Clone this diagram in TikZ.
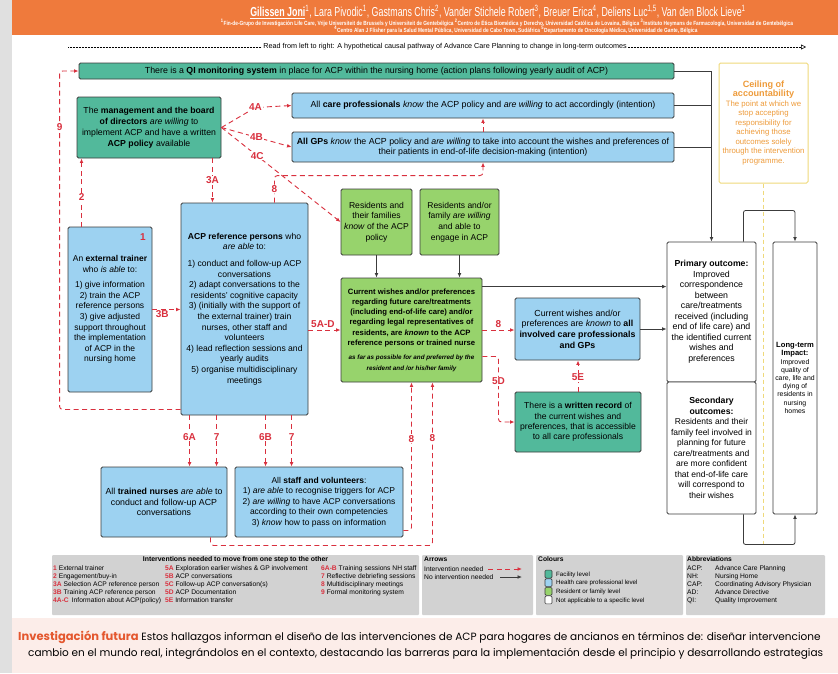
\documentclass[tikz,border=0pt]{standalone}
\usepackage{fontspec}
\setmainfont{Liberation Sans}
\newfontfamily\headfont[FakeStretch=0.8]{Liberation Sans}
\newfontfamily\narrowfont[FakeStretch=0.68]{Liberation Sans}
\newfontfamily\futfont{Poppins}
\usetikzlibrary{arrows.meta}

\definecolor{facility}{HTML}{52B99B}
\definecolor{hcp}{HTML}{9DD2F1}
\definecolor{resid}{HTML}{97D36C}
\definecolor{ivred}{HTML}{D9303E}
\definecolor{heador}{HTML}{EF7A3C}
\definecolor{ceilor}{HTML}{EE9B3A}
\definecolor{ceilyel}{HTML}{EFD97A}
\definecolor{legrey}{HTML}{D2D2D2}
\definecolor{edgegrey}{HTML}{3C3C3C}
\definecolor{pinkbg}{HTML}{FCEDE9}
\definecolor{futor}{HTML}{E4572E}

\newcommand{\bodyfont}{\fontsize{8.5}{10.4}\selectfont}
\newcommand{\legfont}{\fontsize{6.7}{8}\selectfont}
\newcommand{\noteit}{\fontsize{6.3}{7.8}\selectfont\itshape}

\tikzset{
  blk/.style={draw=edgegrey, line width=0.9pt, rounded corners=1.5pt, align=center, inner sep=1pt, font=\bodyfont},
  facbox/.style={blk, fill=facility},
  hcpbox/.style={blk, fill=hcp},
  resbox/.style={blk, fill=resid},
  nabox/.style={blk, fill=white},
  iv/.style={draw=ivred, line width=0.9pt, dash pattern=on 5pt off 3.5pt, -{Latex[length=4.5pt,width=3.8pt]}},
  noiv/.style={draw=edgegrey, line width=0.8pt, -{Latex[length=4.5pt,width=3.8pt]}},
  ivlab/.style={text=ivred, font=\fontsize{10}{10}\selectfont\bfseries, fill=white, inner sep=1pt},
  legtxt/.style={anchor=base west, font=\legfont, inner sep=0pt},
}

\begin{document}
\begin{tikzpicture}[x=1pt,y=-1pt]
\clip (0,0) rectangle (838,673);
\fill[white] (0,0) rectangle (838,673);
\fill[black!12] (0,0) rectangle (12,673);

% header
\fill[heador] (12,0) rectangle (838,35);
\node[text=white, font=\narrowfont\fontsize{13}{14}\selectfont] (authors) at (498,12)
  {\underline{\bfseries Gilissen Joni}\textsuperscript{1}, Lara Pivodic\textsuperscript{1}, Gastmans Chris\textsuperscript{2}, Vander Stichele Robert\textsuperscript{3}, Breuer Erica\textsuperscript{4}, Deliens Luc\textsuperscript{1,5}, Van den Block Lieve\textsuperscript{1}};
\node[text=white, font=\headfont\fontsize{6}{6}\selectfont\bfseries] (affil1) at (507,23)
  {\textsuperscript{1}Fin-de-Grupo de Investigación Life Care, Vrije Universiteit de Brussels y Universiteit de Gentebélgica \textsuperscript{2}Centro de Ética Biomédica y Derecho, Universidad Católica de Lovaina, Bélgica \textsuperscript{3}Instituto Heymans de Farmacología, Universidad de Gentebélgica};
\node[text=white, font=\headfont\fontsize{6}{6}\selectfont\bfseries] (affil2) at (516,30)
  {\textsuperscript{4}Centro Alan J Flisher para la Salud Mental Pública, Universidad de Cabo Town, Sudáfrica \textsuperscript{5}Departamento de Oncología Médica, Universidad de Gante, Bélgica};

% reading direction
\coordinate (rs) at (68,47);
\coordinate (re) at (806,47);
\draw[densely dotted, line width=0.5pt, -{Triangle[open, length=5pt, width=5pt]}] (rs) -- (re)
  node[pos=0.511, fill=white, font=\fontsize{7.2}{8}\selectfont, inner sep=1pt] (readme) {Read from left to right: A hypothetical causal pathway of Advance Care Planning to change in long-term outcomes};

% boxes
\node[facbox, minimum width=595pt, minimum height=16pt, font=\fontsize{8.8}{10}\selectfont] (qi) at (376.5,71)
  {There is a \textbf{QI monitoring system} in place for ACP within the nursing home (action plans following yearly audit of ACP)};
\node[facbox, minimum width=144pt, minimum height=61pt, font=\fontsize{8.7}{11}\selectfont] (mgmt) at (149,127.5)
  {The \textbf{management and the board}\\ \textbf{of directors} \textit{are willing} to\\ implement ACP and have a written\\ \textbf{ACP policy} available};
\node[hcpbox, minimum width=382pt, minimum height=25pt, font=\fontsize{8.8}{10.5}\selectfont] (carep) at (483,105.5)
  {All \textbf{care professionals} \textit{know} the ACP policy and \textit{are willing} to act accordingly (intention)};
\node[hcpbox, minimum width=382pt, minimum height=30pt, font=\fontsize{8.8}{10.5}\selectfont] (gps) at (483,147)
  {\textbf{All GPs} \textit{know} the ACP policy and \textit{are willing} to take into account the wishes and preferences of\\ their patients in end-of-life decision-making (intention)};
\node[hcpbox, minimum width=84pt, minimum height=165pt, font=\fontsize{8.5}{10.6}\selectfont] (trainer) at (110,309.5)
  {An \textbf{external trainer}\\ who \textit{is able} to:\\[5pt] 1) give information\\ 2) train the ACP\\ reference persons\\ 3) give adjusted\\ support throughout\\ the implementation\\ of ACP in the\\ nursing home};
\node[text=ivred, font=\fontsize{10}{10}\selectfont\bfseries] (one) at (143,237) {1};
\node[hcpbox, minimum width=127pt, minimum height=212pt, font=\fontsize{8.6}{10.6}\selectfont] (refp) at (244.5,309)
  {\textbf{ACP reference persons} who\\ \textit{are able} to:\\[6pt] 1) conduct and follow-up ACP\\ conversations\\ 2) adapt conversations to the\\ residents' cognitive capacity\\ 3) (initially with the support of\\ the external trainer) train\\ nurses, other staff and\\ volunteers\\ 4) lead reflection sessions and\\ yearly audits\\ 5) organise multidisciplinary\\ meetings};
\node[resbox, minimum width=71pt, minimum height=66pt, font=\fontsize{8.6}{10.6}\selectfont] (resknow) at (376.5,222)
  {Residents and\\ their families\\ \textit{know} of the ACP\\ policy};
\node[resbox, minimum width=79pt, minimum height=66pt, font=\fontsize{8.5}{10.6}\selectfont] (reswill) at (459.5,222)
  {Residents and/or\\ family \textit{are willing}\\ and able to\\ engage in ACP};
\node[resbox, minimum width=141pt, minimum height=104pt, font=\fontsize{7.7}{10.3}\selectfont\bfseries] (wishes) at (411.5,330)
  {Current wishes and/or preferences\\ regarding future care/treatments\\ (including end-of-life care) and/or\\ regarding legal representatives of\\ residents, are \textit{known} to the ACP\\ reference persons or trained nurse\\[4pt] \noteit as far as possible for and preferred by the\\ \noteit resident and /or his/her family};
\node[hcpbox, minimum width=125pt, minimum height=62pt, font=\fontsize{8.8}{10.7}\selectfont] (known) at (577.5,329)
  {Current wishes and/or\\ preferences are \textit{known} to \textbf{all}\\ \textbf{involved care professionals}\\ \textbf{and GPs}};
\node[facbox, minimum width=126pt, minimum height=60pt, font=\fontsize{8.6}{10.4}\selectfont] (record) at (578,422)
  {There is a \textbf{written record} of\\ the current wishes and\\ preferences, that is accessible\\ to all care professionals};
\node[hcpbox, minimum width=126pt, minimum height=70pt, font=\fontsize{8.8}{10.4}\selectfont] (nurses) at (164,502)
  {All \textbf{trained nurses} \textit{are able} to\\ conduct and follow-up ACP\\ conversations};
\node[hcpbox, minimum width=168pt, minimum height=70pt] (staff) at (319,502)
  {All \textbf{staff and volunteers}:\\ 1) \textit{are able} to recognise triggers for ACP\\ 2) \textit{are willing} to have ACP conversations\\ according to their own competencies\\ 3) \textit{know} how to pass on information};

% outcomes
\node[draw=ceilyel, line width=1pt, rounded corners=1.5pt, minimum width=89pt, minimum height=120pt, align=center, inner sep=1pt, text=ceilor, font=\fontsize{7.8}{9.5}\selectfont] (ceiling) at (763.5,123)
  {\fontsize{9.1}{11}\selectfont\bfseries Ceiling of\\ \fontsize{9.1}{11}\selectfont\bfseries accountability\\ The point at which we\\ stop accepting\\ responsibility for\\ achieving those\\ outcomes solely\\ through the intervention\\ programme.};
\draw[ceilyel, line width=0.9pt, dash pattern=on 4pt off 3pt] (ceiling.south) -- ++(0,362);
\node[nabox, minimum width=89pt, minimum height=140pt, font=\fontsize{8.8}{10.5}\selectfont] (primary) at (711.5,312)
  {\fontsize{8.7}{10.5}\selectfont\bfseries Primary outcome:\\ Improved\\ correspondence\\ between\\ care/treatments\\ received (including\\ end of life care) and\\ the identified current\\ wishes and\\ preferences};
\node[nabox, minimum width=89pt, minimum height=132pt, font=\fontsize{8.5}{10.5}\selectfont] (secondary) at (711.5,448)
  {\fontsize{8.7}{10.5}\selectfont\bfseries Secondary\\ \fontsize{8.7}{10.5}\selectfont\bfseries outcomes:\\ Residents and their\\ family feel involved in\\ planning for future\\ care/treatments and\\ are more confident\\ that end-of-life care\\ will correspond to\\ their wishes};
\node[nabox, minimum width=44pt, minimum height=272pt, inner sep=0pt, font=\fontsize{6.9}{8.2}\selectfont] (impact) at (795,378)
  {\fontsize{7.6}{9}\selectfont\bfseries Long-term\\ \fontsize{7.6}{9}\selectfont\bfseries Impact:\\ Improved\\ quality of\\ care, life and\\ dying of\\ residents in\\ nursing\\ homes};

% no intervention needed
\draw[noiv] (qi.east) -| (primary.north);
\draw[edgegrey, line width=0.8pt] (carep.east) -- (carep.east -| primary.north);
\draw[edgegrey, line width=0.8pt] (gps.east) -- (gps.east -| primary.north);
\coordinate (wtop) at ([yshift=-9pt]wishes.north east);
\draw[noiv] (wtop) -- (wtop -| primary.west);
\draw[noiv] (known.east) -- (known.east -| primary.west);
\draw[noiv] (resknow.south) -- (resknow.south |- wishes.north);
\draw[noiv] (reswill.south) -- (reswill.south |- wishes.north);
\coordinate (ptop) at ([xshift=-13pt]primary.north east);
\draw[noiv, rounded corners=2pt] (ptop) -- ++(0,-31) -| (impact.north);
\coordinate (sbot) at ([xshift=-13pt]secondary.south east);
\draw[noiv, rounded corners=2pt] (sbot) -- ++(0,30) -| (impact.south);

% intervention needed
\coordinate (c9) at ([yshift=6pt]refp.south west);
\draw[iv, rounded corners=3pt] (c9) -- ++(-121,0) |- (qi.west) node[ivlab, pos=0.417] {9};
\coordinate (c2) at ([xshift=14pt]trainer.north west);
\draw[iv] (c2) -- (c2 |- mgmt.south) node[ivlab, pos=0.43] {2};
\coordinate (c3a) at ([xshift=-9pt]mgmt.south east);
\draw[iv] (c3a) -- (c3a |- refp.north) node[ivlab, pos=0.5] {3A};
\draw[iv] (trainer.east) -- (trainer.east -| refp.west) node[ivlab, below, fill=none, pos=0.35] {3B};
\draw[iv] (mgmt.east) -- ++(34,-20) node[ivlab, pos=1] {4A} -- (carep.west);
\draw[iv] (mgmt.east) -- (gps.west) node[ivlab, pos=0.5] {4B};
\draw[iv] (mgmt.east) -- (resknow.west) node[ivlab, pos=0.3] {4C};
\coordinate (c8t) at ([xshift=-34pt]refp.north east);
\draw[iv, rounded corners=3pt] (c8t) -- ++(0,-27) node[ivlab, pos=0.5] {8} -| (gps.south);
\draw[iv] (gps.north) -- (carep.south);
\coordinate (c5a) at (wishes.west -| refp.east);
\draw[iv] (c5a) -- (wishes.west) node[ivlab, above=1pt, fill=none, pos=0.45] {5A-D};
\draw[iv] (wishes.east) -- (wishes.east -| known.west) node[ivlab, above=1pt, fill=none, pos=0.5] {8};
\coordinate (c5d) at ([yshift=26pt]wishes.south east);
\draw[iv, rounded corners=3pt] (c5d) -- ++(16,0) |- (record.west) node[ivlab, pos=0.19] {5D};
\draw[iv] (record.north) -- (record.north |- known.south) node[ivlab, pos=0.45] {5E};
\foreach \dx/\lab/\tgt in {9/6A/nurses, 36/7/nurses, 85/6B/staff, 111/7/staff}{
  \coordinate (c\lab\dx) at ([xshift=\dx pt]refp.south west);
  \draw[iv] (c\lab\dx) -- (c\lab\dx |- \tgt.north) node[ivlab, pos=0.42] {\lab};
}
\coordinate (c8s) at ([yshift=7pt]staff.south east);
\draw[iv, rounded corners=3pt] (c8s) -| (wishes.south) node[ivlab, pos=0.81] {8};
\coordinate (c8n) at ([xshift=-17pt]nurses.south east);
\coordinate (c8w) at ([xshift=-50pt]wishes.south east);
\draw[iv, rounded corners=3pt] (c8n) -- ++(0,8) -| (c8w) node[ivlab, pos=0.83] {8};

% legend
\fill[legrey, rounded corners=1pt] (52,555) rectangle (419,615);
\fill[legrey, rounded corners=1pt] (422,555) rectangle (533,615);
\fill[legrey, rounded corners=1pt] (536,555) rectangle (683,615);
\fill[legrey, rounded corners=1pt] (686,555) rectangle (825,615);
\node[font=\fontsize{6.9}{8}\selectfont\bfseries, anchor=base, inner sep=0pt] (ivtitle) at (235.5,561.5) {Interventions needed to move from one step to the other};
\foreach \lab/\txt [count=\i] in {1/External trainer, 2/{Engagement/buy-in}, 3A/Selection ACP reference person, 3B/Training ACP reference person, 4A-C/{\,Information about ACP(policy)}}
  \node[legtxt] (ivA\i) at (53,562+8*\i) {\textcolor{ivred}{\bfseries\lab} \txt};
\foreach \lab/\txt [count=\i] in {5A/Exploration earlier wishes \& GP involvement, 5B/ACP conversations, 5C/Follow-up ACP conversation(s), 5D/ACP Documentation, 5E/Information transfer}
  \node[legtxt] (ivB\i) at (165,562+8*\i) {\textcolor{ivred}{\bfseries\lab} \txt};
\foreach \lab/\txt [count=\i] in {6A-B/Training sessions NH staff, 7/Reflective debriefing sessions, 8/Multidisciplinary meetings, 9/Formal monitoring system}
  \node[legtxt] (ivC\i) at (321,562+8*\i) {\textcolor{ivred}{\bfseries\lab} \txt};

\node[legtxt, font=\legfont\bfseries] (arrtitle) at (424,561.5) {Arrows};
\node[legtxt] (arr1) at (424,571) {Intervention needed};
\node[legtxt] (arr2) at (424,579) {No intervention needed};
\coordinate (la1) at (488,569);
\coordinate (la2) at (500,577);
\draw[iv] (la1) -- ++(34,0);
\draw[noiv] (la2) -- ++(22,0);

\node[legtxt, font=\legfont\bfseries] (coltitle) at (538,561.5) {Colours};
\foreach \col/\txt [count=\i] in {facility/Facility level, hcp/Health care professional level, resid/Resident or family level, white/Not applicable to a specific level}{
  \node[draw=edgegrey, fill=\col, line width=0.6pt, rounded corners=1.2pt, minimum width=7pt, minimum height=8pt, inner sep=0pt] (sw\i) at (548.5,565.5+8.6*\i) {};
  \node[legtxt, font=\fontsize{6.2}{7}\selectfont] (swl\i) at (556,567.6+8.6*\i) {\txt};
}

\node[legtxt, font=\legfont\bfseries] (abbtitle) at (687,561.5) {Abbreviations};
\foreach \ab/\txt [count=\i] in {ACP:/Advance Care Planning, NH:/Nursing Home, CAP:/Coordinating Advisory Physician, AD:/Advance Directive, QI:/Quality Improvement}{
  \node[legtxt] (ab\i) at (687,562+8*\i) {\ab};
  \node[legtxt] (abt\i) at (715,562+8*\i) {\txt};
}

% future research
\fill[pinkbg] (12,618) rectangle (838,673);
\node[anchor=base west, inner sep=0pt, font=\futfont\fontsize{10.5}{12}\selectfont] (future1) at (18,640)
  {{\color{futor}\fontsize{11.5}{12}\selectfont\bfseries Investigación futura} Estos hallazgos informan el diseño de las intervenciones de ACP para hogares de ancianos en términos de: diseñar intervencione};
\node[anchor=base west, inner sep=0pt, font=\futfont\fontsize{10.5}{12}\selectfont] (future2) at (28,656)
  {cambio en el mundo real, integrándolos en el contexto, destacando las barreras para la implementación desde el principio y desarrollando estrategias};
\end{tikzpicture}
\end{document}
